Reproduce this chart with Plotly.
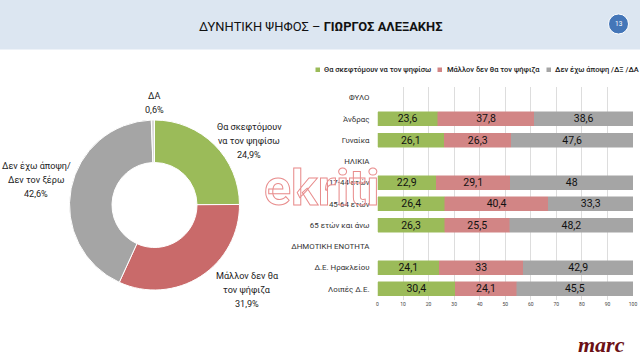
import plotly.graph_objects as go

W, H = 640, 360

# ---- data ----
pie_labels = [["Θα σκεφτόμουν", "να τον ψηφίσω"], ["Μάλλον δεν θα", "τον ψήφιζα"], ["Δεν έχω άποψη/", "Δεν τον ξέρω"], ["ΔΑ"]]
pie_values = [24.9, 31.9, 42.6, 0.6]
pie_colors = ["#9BBB59", "#C96A6A", "#A5A5A5", "#D9D9D9"]

categories = ["ΦΥΛΟ", "Άνδρας", "Γυναίκα", "ΗΛΙΚΙΑ", "17-44 ετών", "45-64 ετών",
              "65 ετών και άνω", "ΔΗΜΟΤΙΚΗ ΕΝΟΤΗΤΑ", "Δ.Ε. Ηρακλείου", "Λοιπές Δ.Ε."]
series_names = ["Θα σκεφτόμουν να τον ψηφίσω", "Μάλλον δεν θα τον ψήφιζα", "Δεν έχω άποψη /ΔΞ /ΔΑ"]
would_vote = [None, 23.6, 26.1, None, 22.9, 26.4, 26.3, None, 24.1, 30.4]
would_not = [None, 37.8, 26.3, None, 29.1, 40.4, 25.5, None, 33, 24.1]
no_opinion = [None, 38.6, 47.6, None, 48, 33.3, 48.2, None, 42.9, 45.5]
bar_colors = ["#9BBB59", "#D28585", "#A5A5A5"]
x_ticks = [0, 10, 20, 30, 40, 50, 60, 70, 80, 90, 100]

title_plain = "ΔΥΝΗΤΙΚΗ ΨΗΦΟΣ – "
title_bold = "ΓΙΩΡΓΟΣ ΑΛΕΞΑΚΗΣ"
page_number = "13"
FONT = "Roboto, sans-serif"


def px(v):
    return v / W


def py(v):
    return 1 - v / H


def fmt(v):
    return "" if v is None else str(v).replace(".", ",")


fig = go.Figure()

# stacked bars
for name, vals, col in zip(series_names, [would_vote, would_not, no_opinion], bar_colors):
    fig.add_trace(go.Bar(
        y=categories, x=vals, name=name, orientation="h",
        marker=dict(color=col, line=dict(color=col, width=0.5)),
        text=[fmt(v) for v in vals], textposition="inside", insidetextanchor="middle",
        textangle=0, constraintext="none",
        textfont=dict(family=FONT, size=10.5, color="#111111"),
        showlegend=False, hoverinfo="skip",
    ))

# doughnut
fig.add_trace(go.Pie(
    labels=[" ".join(l) for l in pie_labels], values=pie_values, hole=0.5, sort=False,
    direction="clockwise", rotation=0,
    marker=dict(colors=pie_colors, line=dict(color="white", width=1)),
    textinfo="none", showlegend=False, hoverinfo="skip",
    domain=dict(x=[px(69.5), px(239.5)], y=[py(290), py(120)]),
))

annotations = []


def note(x, y, text, size=10.5, color="#222222", anchor="center", **font):
    annotations.append(dict(
        x=px(x), y=py(y), xref="paper", yref="paper", text=text, showarrow=False,
        xanchor=anchor, yanchor="middle", align="center",
        font=dict(family=font.pop("family", FONT), size=size, color=color, **font),
    ))


# pie labels, one annotation per line to hold the reference's 14 px leading
pie_pos = [(249, 127), (247, 276), (36, 166), (154, 96)]
for lab, val, (x, y) in zip(pie_labels, pie_values, pie_pos):
    for i, line in enumerate(lab + [f"{fmt(val)}%"]):
        note(x, y + i * 14, line, size=9.1)

# title and page number
note(320.5, 27, f"{title_plain}<b>{title_bold}</b>", size=12.9, color="#111111")
note(618.5, 24, page_number, size=6.5, color="white")

# legend
leg_squares = [(315.5, 320), (437.5, 442), (546.5, 551)]
leg_text_x = [322, 445, 553]
shapes = [
    dict(type="rect", xref="paper", yref="paper", x0=0, x1=1, y0=py(49.5), y1=1,
         fillcolor="#DCE6F1", line_width=0, layer="below"),
    dict(type="circle", xref="paper", yref="paper", x0=px(608.5), x1=px(628.5), y0=py(34), y1=py(14),
         fillcolor="#4476B8", line=dict(color="white", width=1), layer="below"),
]
for (x0, x1), tx, name, col in zip(leg_squares, leg_text_x, series_names, bar_colors):
    shapes.append(dict(type="rect", xref="paper", yref="paper", x0=px(x0), x1=px(x1),
                       y0=py(72), y1=py(67.5), fillcolor=col, line_width=0))
    note(tx, 70, name, size=7.5, anchor="left", weight=500)

# watermark (outlined text; stroke applied by post_script below)
annotations.append(dict(
    x=px(321.5), y=py(188), xref="paper", yref="paper", text="ekriti", showarrow=False,
    xanchor="center", yanchor="middle",
    font=dict(family="Roboto", size=50, color="#E88C8C", weight="bold"),
))

# logo
note(601, 344, "<b><i>marc</i></b>", size=22, color="#6B1015", family="Liberation Serif")

fig.update_layout(
    width=W, height=H, margin=dict(l=0, r=0, t=0, b=0, pad=0), autosize=False,
    paper_bgcolor="white", plot_bgcolor="white", barmode="stack", bargap=0.34,
    shapes=shapes, annotations=annotations,
    font=dict(family=FONT),
    xaxis=dict(domain=[px(377.5), px(633)], range=[0, 100], tickvals=x_ticks,
               tickfont=dict(size=5, color="#444444"), ticks="", showgrid=True,
               gridcolor="#DDDDDD", gridwidth=1, zeroline=False, showline=False, anchor="y",
               automargin=False),
    yaxis=dict(domain=[py(299.5), py(87)], autorange="reversed", categoryorder="array",
               categoryarray=categories, tickfont=dict(size=7.9, color="#333333"),
               ticks="", ticklen=0, ticklabelstandoff=7, showgrid=False, showline=False,
               zeroline=False, anchor="x", automargin=False),
)

post = """
document.documentElement.style.margin = '0';
document.body.style.margin = '0';
document.body.style.overflow = 'hidden';
document.querySelectorAll('.annotation-text').forEach(function (t) {
  if (t.textContent === 'ekriti') {
    t.style.fill = 'none';
    t.style.stroke = '#E88C8C';
    t.style.strokeWidth = '1px';
  }
});
"""
fig.write_html("out.html", config=dict(displayModeBar=False), post_script=post)
